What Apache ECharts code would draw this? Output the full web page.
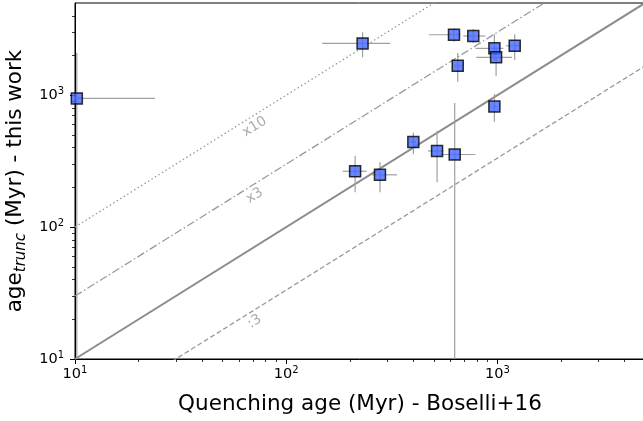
<!DOCTYPE html>
<html>
<head>
<meta charset="utf-8">
<script src="https://cdn.jsdelivr.net/npm/echarts@6/dist/echarts.min.js"></script>
<style>
html, body { margin: 0; padding: 0; background: #fff; }
#chart { width: 643px; height: 421px; }
</style>
</head>
<body>
<div id="chart"></div>
<script>
// quenching age (Boselli+16) vs truncation age (this work), both in Myr
var quenchAge = [230, 623, 769, 968, 986, 1208, 649, 968, 400, 518, 628, 212, 278, 10.2];
var truncAge  = [2470, 2873, 2808, 2265, 1936, 2371, 1671, 822, 441, 378, 355, 265, 249, 946];
// error bar ends
var quenchLo = [148, 474, 690, 787, 795, 1100, 625, 945, 388, 469, 537, 185, 255, 5];
var quenchHi = [311, 668, 877, 1067, 1174, 1290, 675, 992, 412, 555, 787, 241, 335, 23.9];
var truncLo  = [1936, 2540, 2485, 1850, 1400, 1850, 1264, 628, 357, 219, 5, 184, 184, 5];
var truncHi  = [2995, 3210, 3176, 2900, 2300, 2900, 2086, 1019, 519, 537, 871, 347, 312, 2098];

var axisMin = 10, axisMax = 5000;
var majorTicks = [10, 100, 1000];
var minorTicks = [20, 30, 40, 50, 60, 70, 80, 90, 200, 300, 400, 500, 600, 700, 800, 900, 2000, 3000, 4000];

// y = k * x guide lines
var ratios = [10, 3, 1, 1 / 3];
var ratioNames = ['x10', 'x3', '', ':3'];
var labelAtX = 70;

var FONT = 'DejaVu Sans';
var lineStyles = [
    { color: '#999', width: 1.3, type: [1.5, 2.6] },
    { color: '#999', width: 1.3, type: [8, 2.6, 1.5, 2.6] },
    { color: '#8c8c8c', width: 2, type: 'solid' },
    { color: '#999', width: 1.3, type: [5, 2.6] }
];

function supLabel(v) {
    var e = Math.round(Math.log10(v));
    return '{b|10}{s|' + e + '}';
}

var labelRich = {
    b: { fontSize: 14.5, fontFamily: FONT, color: '#000', lineHeight: 18 },
    s: { fontSize: 10, fontFamily: FONT, color: '#000', lineHeight: 9, verticalAlign: 'top' }
};

function majorAxis(isX) {
    var ax = {
        type: 'log', logBase: 10, min: axisMin, max: axisMax,
        position: isX ? 'bottom' : 'left',
        axisLine: { show: true, lineStyle: { color: '#000', width: 1 } },
        axisTick: { show: true, inside: false, length: 5, customValues: majorTicks, lineStyle: { color: '#000', width: 1 } },
        axisLabel: { show: true, customValues: majorTicks, formatter: supLabel, rich: labelRich, margin: isX ? 6 : 11 },
        splitLine: { show: false },
        nameLocation: 'middle'
    };
    if (isX) {
        ax.name = 'Quenching age (Myr) - Boselli+16';
        ax.nameGap = 33;
        ax.nameTextStyle = { fontFamily: FONT, fontSize: 21.5, color: '#000', lineHeight: 24 };
    } else {
        ax.name = '{n|age}{t|trunc}{n| (Myr) - this work}';
        ax.nameGap = 39;
        ax.nameRotate = 90;
        ax.nameTextStyle = {
            fontFamily: FONT, fontSize: 21.5, color: '#000',
            rich: {
                n: { fontFamily: FONT, fontSize: 21.5, color: '#000', lineHeight: 26 },
                t: { fontFamily: FONT, fontSize: 15, fontStyle: 'italic', color: '#000', lineHeight: 14, verticalAlign: 'bottom' }
            }
        };
    }
    return ax;
}

function minorAxis(isX) {
    return {
        type: 'log', logBase: 10, min: axisMin, max: axisMax,
        position: isX ? 'bottom' : 'left',
        axisLine: { show: false },
        axisTick: { show: true, inside: false, length: 3, customValues: minorTicks, lineStyle: { color: '#000', width: 0.8 } },
        axisLabel: { show: false },
        splitLine: { show: false }
    };
}

var series = [];

ratios.forEach(function (k, i) {
    series.push({
        type: 'line',
        data: [[axisMin, axisMin * k], [axisMax, axisMax * k]],
        symbol: 'none',
        silent: true,
        clip: true,
        lineStyle: lineStyles[i],
        z: 1
    });
});

// labels sitting just under their guide line
var guideLabels = [];
ratios.forEach(function (k, i) {
    if (ratioNames[i]) guideLabels.push({ value: [labelAtX, labelAtX * k], name: ratioNames[i] });
});
series.push({
    type: 'scatter',
    data: guideLabels,
    symbolSize: 0,
    silent: true,
    label: {
        show: true, position: 'inside', formatter: '{b}', rotate: 32, offset: [-5, 10],
        fontFamily: FONT, fontSize: 14, color: '#999'
    },
    z: 2
});

var errData = quenchAge.map(function (x, i) {
    return [x, truncAge[i], quenchLo[i], quenchHi[i], truncLo[i], truncHi[i]];
});

series.push({
    type: 'custom',
    data: errData,
    encode: { x: 0, y: 1 },
    clip: true,
    silent: true,
    z: 3,
    renderItem: function (params, api) {
        var x = api.value(0), y = api.value(1);
        var h0 = api.coord([api.value(2), y]), h1 = api.coord([api.value(3), y]);
        var v0 = api.coord([x, api.value(4)]), v1 = api.coord([x, api.value(5)]);
        var st = { stroke: '#a0a0a0', lineWidth: 1.2 };
        return {
            type: 'group',
            children: [
                { type: 'line', shape: { x1: h0[0], y1: h0[1], x2: h1[0], y2: h1[1] }, style: st },
                { type: 'line', shape: { x1: v0[0], y1: v0[1], x2: v1[0], y2: v1[1] }, style: st }
            ]
        };
    }
});

series.push({
    type: 'scatter',
    data: quenchAge.map(function (x, i) { return [x, truncAge[i]]; }),
    symbol: 'rect',
    symbolSize: 11,
    clip: true,
    itemStyle: { color: '#4466ff', borderColor: '#000', borderWidth: 1.5 },
    z: 5
});

var chart = echarts.init(document.getElementById('chart'), null, { renderer: 'canvas' });
chart.setOption({
    animation: false,
    backgroundColor: '#fff',
    grid: {
        left: 75, top: 3, right: -2, bottom: 62,
        outerBoundsMode: 'none',
        show: true, borderColor: '#000', borderWidth: 1
    },
    xAxis: [majorAxis(true), minorAxis(true)],
    yAxis: [majorAxis(false), minorAxis(false)],
    series: series
});
</script>
</body>
</html>
